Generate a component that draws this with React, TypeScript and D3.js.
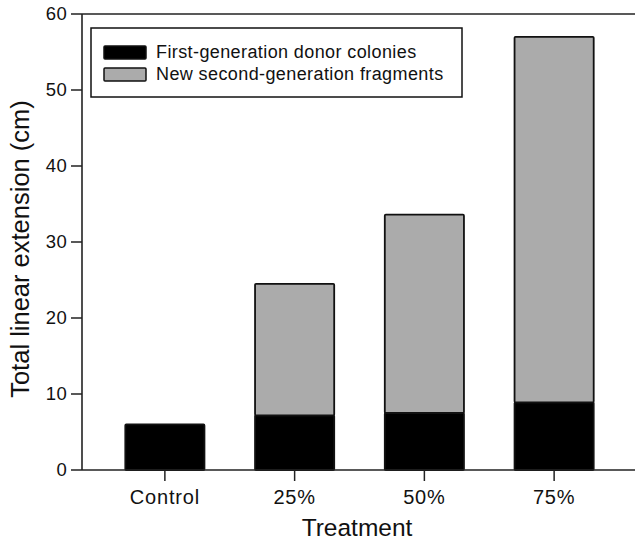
import React from "react";
import * as d3 from "d3";

const treatments = ["Control", "25%", "50%", "75%"];
const firstGen = [6.0, 7.2, 7.5, 8.9]; // donor colonies
const secondGen = [0, 17.3, 26.1, 48.1]; // new fragments
const yTicks = [0, 10, 20, 30, 40, 50, 60];
const legendLabels = ["First-generation donor colonies", "New second-generation fragments"];
const seriesColors = ["#000000", "#ababab"];

const width = 635;
const height = 540;
const margin = { top: 14, right: 0, bottom: 70, left: 82 };
const font = "'Liberation Sans', Arial, Helvetica, sans-serif";

const App = () => {
  const y = d3
    .scaleLinear()
    .domain([0, 60])
    .range([height - margin.bottom, margin.top]);

  const x = d3
    .scaleBand()
    .domain(treatments)
    .range([100, 619])
    .paddingInner(0.39)
    .paddingOuter(0.195);

  const rows = treatments.map((t, i) => ({ t, first: firstGen[i], second: secondGen[i] }));
  const stacked = d3.stack<any>().keys(["first", "second"])(rows);

  const y0 = y(0);

  return (
    <svg width={width} height={height} style={{ display: "block", position: "absolute", left: 0, top: 0 }} fontFamily={font}>
      <rect width={width} height={height} fill="#fff" />

      {/* bars, black first then grey on top */}
      {stacked.map((layer, li) =>
        layer.map((d, i) => {
          const h = y(d[0]) - y(d[1]);
          if (h <= 0.5) return null;
          return (
            <rect
              key={li + "-" + i}
              x={x(treatments[i])}
              y={y(d[1])}
              width={x.bandwidth()}
              height={h}
              fill={seriesColors[li]}
              stroke="#111"
              strokeWidth={1.8}
              rx={1}
            />
          );
        })
      )}

      {/* top frame line at 60 */}
      <line x1={margin.left} x2={width} y1={y(60)} y2={y(60)} stroke="#222" strokeWidth={1.6} />
      {/* axes */}
      <line x1={margin.left} x2={margin.left} y1={y(60)} y2={y0} stroke="#222" strokeWidth={1.6} />
      <line x1={margin.left} x2={width} y1={y0} y2={y0} stroke="#222" strokeWidth={1.6} />

      {yTicks.map((v) => (
        <g key={v} transform={`translate(0,${y(v)})`}>
          <line x1={margin.left - 11} x2={margin.left} stroke="#222" strokeWidth={1.5} />
          <text x={margin.left - 15} dy="0.35em" textAnchor="end" fontSize={18.5} letterSpacing={0.3} fill="#111">
            {v}
          </text>
        </g>
      ))}

      {treatments.map((t) => {
        const cx = (x(t) as number) + x.bandwidth() / 2;
        return (
          <g key={t} transform={`translate(${cx},${y0})`}>
            <line y1={0} y2={11} stroke="#222" strokeWidth={1.5} />
            <text y={34} textAnchor="middle" fontSize={20} letterSpacing={0.8} fill="#111">
              {t}
            </text>
          </g>
        );
      })}

      <text x={357} y={536} textAnchor="middle" fontSize={24.5} fill="#111">
        Treatment
      </text>
      <text
        transform={`translate(28.5,249) rotate(-90)`}
        textAnchor="middle"
        fontSize={25.5}
        fill="#111"
      >
        Total linear extension (cm)
      </text>

      {/* legend */}
      <rect x={91} y={28} width={371} height={69} fill="#fff" stroke="#111" strokeWidth={1.5} />
      {legendLabels.map((l, i) => (
        <g key={l} transform={`translate(104,${46 + i * 22})`}>
          <rect width={42} height={13} fill={seriesColors[i]} stroke="#111" strokeWidth={1.5} rx={1} />
          <text x={52} y={12} fontSize={18} letterSpacing={0.4} fill="#111">
            {l}
          </text>
        </g>
      ))}
    </svg>
  );
};

export default App;
